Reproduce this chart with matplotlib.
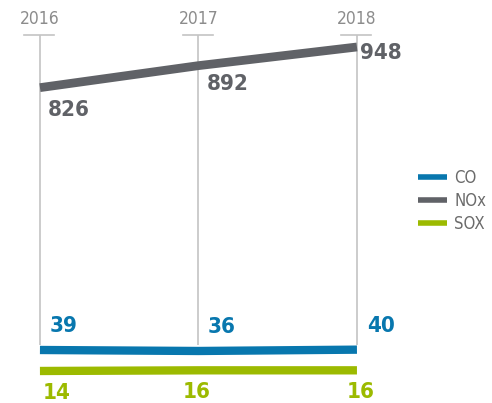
import matplotlib.pyplot as plt

# Emisiones por año
years = [2016, 2017, 2018]
nox = [826, 892, 948]
co = [39, 36, 40]
sox = [14, 16, 16]

C_NOX = '#606267'
C_CO = '#0877ae'
C_SOX = '#9cba00'
C_GRID = '#c4c4c4'
C_YEAR = '#8c8c8c'

plt.rcParams['font.family'] = ['DejaVu Sans']
plt.rcParams['font.stretch'] = 'condensed'

fig = plt.figure(figsize=(4.92, 4.03), dpi=100)
ax = fig.add_axes([0, 0.0571, 1, 0.8561])
ax.set_xlim(2015.748, 2018.852)
ax.set_ylim(-51, 984)
ax.axis('off')

# eje secundario para SOX, misma escala pero desplazado
ax2 = ax.twinx()
ax2.set_ylim(-13, 1022)
ax2.axis('off')

# líneas verticales por año con su marca arriba
for yr in years:
    ax.vlines(yr, 54, 984, color=C_GRID, lw=1.2, zorder=1)
    ax.plot([yr - 0.1, yr + 0.09], [984, 984], color=C_GRID, lw=1.2, clip_on=False)
    ax.annotate(str(yr), (yr, 984), xytext=(0, 5), textcoords='offset points',
                ha='center', va='bottom', fontsize=12.5, color=C_YEAR,
                fontstretch='condensed')

l_nox, = ax.plot(years, nox, color=C_NOX, lw=6.3, solid_capstyle='butt', zorder=3)
l_co, = ax.plot(years, co, color=C_CO, lw=6, solid_capstyle='butt', zorder=3)
l_sox, = ax2.plot(years, sox, color=C_SOX, lw=6, solid_capstyle='butt', zorder=3)

lab = dict(textcoords='offset points', ha='center', va='center', fontsize=16,
           fontweight='bold', fontstretch='condensed')

# etiquetas de valores
nox_off = [(21, -16), (21, -13), (17, -4)]
for x, v, off in zip(years, nox, nox_off):
    ax.annotate(str(v), (x, v), xytext=off, color=C_NOX, **lab)
for x, v in zip(years, co):
    ax.annotate(str(v), (x, v), xytext=(17, 17), color=C_CO, **lab)
sox_off = [(12, -15.5), (-1, -15.5), (3, -15.5)]
for x, v, off in zip(years, sox, sox_off):
    ax2.annotate(str(v), (x, v), xytext=off, color=C_SOX, **lab)

leg = fig.legend([l_co, l_nox, l_sox], ['CO', 'NOx', 'SOX'],
                 loc='upper left', bbox_to_anchor=(0.82, 0.618), frameon=False,
                 prop={'size': 12, 'stretch': 'condensed'},
                 handlelength=1.7, handletextpad=0.45, labelspacing=0.3,
                 labelcolor='#6b6b6b')
for h in leg.legend_handles:
    h.set_linewidth(4)

fig.savefig('out.png', dpi=100)
